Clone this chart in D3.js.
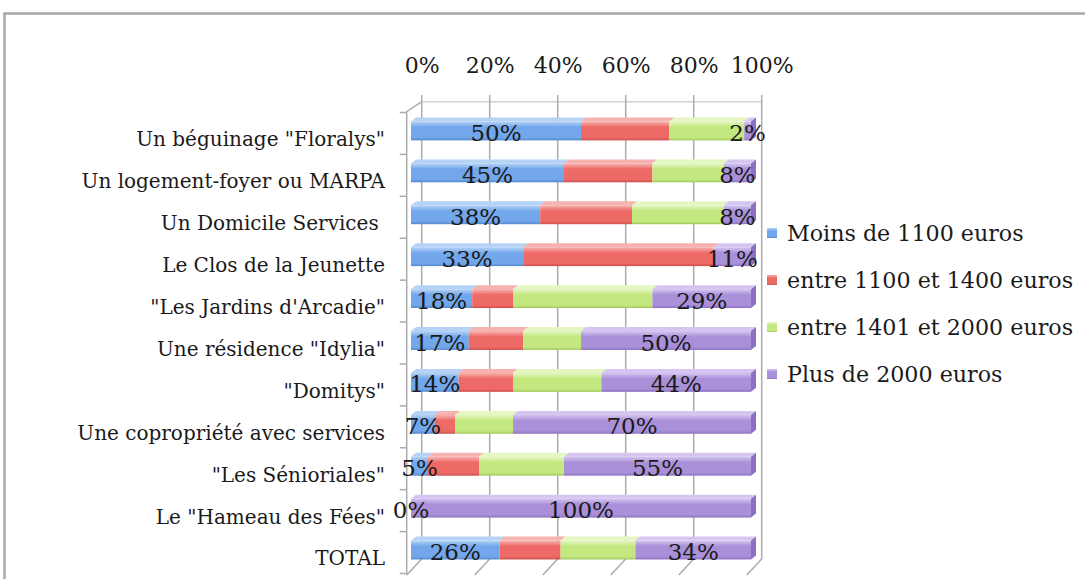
<!DOCTYPE html>
<html lang="fr">
<head>
  <meta charset="UTF-8">
  <title>Budget mensuel par type de résidence</title>
  <style>
    body { margin: 0; background: #fff; }
    svg { display: block; font-family: "DejaVu Serif", serif; }
    .cat text { white-space: pre; }
  </style>
</head>
<body>
  <svg width="1085" height="579"></svg>
  <script src="https://d3js.org/d3.v7.min.js"></script>
  <script>
    // données (en %)
    const categories = [
      'Un béguinage "Floralys"',
      'Un logement-foyer ou MARPA',
      'Un Domicile Services ',
      'Le Clos de la Jeunette',
      '"Les Jardins d\'Arcadie"',
      'Une résidence "Idylia"',
      '"Domitys"',
      'Une copropriété avec services',
      '"Les Sénioriales"',
      'Le "Hameau des Fées"',
      'TOTAL'
    ];
    const seriesNames = ["Moins de 1100 euros", "entre 1100 et 1400 euros", "entre 1401 et 2000 euros", "Plus de 2000 euros"];
    const moins1100 = [50, 45, 38, 33, 18, 17, 14, 7, 5, 0, 26];
    const entre1100 = [26, 26, 27, 56, 12, 16, 16, 6, 15, 0, 18];
    const entre1401 = [22, 21, 27, 0, 41, 17, 26, 17, 25, 0, 22];
    const plus2000  = [2, 8, 8, 11, 29, 50, 44, 70, 55, 100, 34];
    const tickValues = [0, 20, 40, 60, 80, 100];

    // couleurs : clair (haut), base, foncé (côté)
    const palette = [
      { light: "#b6d3f5", base: "#72a7eb", dark: "#5588cc" },
      { light: "#f6b2af", base: "#ee6a66", dark: "#cc4f4b" },
      { light: "#e4f6c2", base: "#c4e880", dark: "#a0c95c" },
      { light: "#d4c6f0", base: "#a990d9", dark: "#8c70c2" }
    ];

    const svg = d3.select("svg");
    const defs = svg.append("defs");
    palette.forEach((c, i) => {
      const g = defs.append("linearGradient").attr("id", "grad" + i)
        .attr("x1", 0).attr("y1", 0).attr("x2", 0).attr("y2", 1);
      g.append("stop").attr("offset", "0%").attr("stop-color", c.light);
      g.append("stop").attr("offset", "30%").attr("stop-color", c.base);
      g.append("stop").attr("offset", "85%").attr("stop-color", c.base);
      g.append("stop").attr("offset", "100%").attr("stop-color", c.dark);
    });

    // cadre
    svg.append("path").attr("d", "M4.5,579 V13.5 H1085")
      .attr("fill", "none").attr("stroke", "#a8a8a8").attr("stroke-width", 2.5);

    // échelles : x sur le mur du fond, décalage vers l'avant pour la profondeur
    const x = d3.scaleLinear().domain([0, 100]).range([421.7, 761.7]);
    const y = d3.scaleBand().domain(categories).range([110, 571])
      .paddingInner(0.55).paddingOuter(0.275);
    const wallTop = 101.7, wallBottom = 559;
    const DX = -15, DY = 10;      // arête haute du mur gauche
    const FY = 16;                // plancher
    const BX = -10.7;             // face avant des barres
    const bdx = 5, bdy = -4;      // épaisseur des barres

    // grille du mur du fond + plancher
    const grid = svg.append("g").attr("stroke", "#acacac").attr("stroke-width", 1.5).attr("fill", "none");
    grid.append("line").attr("x1", x(0)).attr("x2", x(100)).attr("y1", wallTop).attr("y2", wallTop)
      .attr("stroke", "#d4d4d4");
    tickValues.forEach(v => {
      grid.append("path")
        .attr("d", `M${x(v)},95 V${wallBottom} l${DX},${FY}`);
    });
    // mur gauche
    grid.append("path")
      .attr("d", `M${x(0)},${wallTop} l${DX},${DY} V${wallBottom + FY}`);
    const step = y.step();
    d3.range(categories.length + 1).forEach(k => {
      const yy = y.range()[0] + k * step + 2.5;
      grid.append("line").attr("x1", x(0) + DX - 7).attr("x2", x(0) + DX)
        .attr("y1", yy).attr("y2", yy);
    });

    // axe du haut (pourcentages)
    const axisTop = svg.append("g").attr("transform", "translate(0,73)")
      .call(d3.axisTop(x).tickValues(tickValues).tickFormat(d => d + "%").tickSize(0).tickPadding(0));
    axisTop.select(".domain").remove();
    axisTop.selectAll("text").attr("font-family", "DejaVu Serif").attr("font-size", 22).attr("fill", "#1a1a1a");

    // axe des catégories
    const axisLeft = svg.append("g").attr("class", "cat").attr("transform", "translate(385,9)")
      .call(d3.axisLeft(y).tickSize(0).tickPadding(0));
    axisLeft.select(".domain").remove();
    axisLeft.selectAll("text").attr("font-family", "DejaVu Serif").attr("font-size", 20).attr("fill", "#1a1a1a");

    // empilement
    const rows = categories.map((c, i) => ({
      cat: c, s0: moins1100[i], s1: entre1100[i], s2: entre1401[i], s3: plus2000[i]
    }));
    const stack = d3.stack().keys(["s0", "s1", "s2", "s3"])(rows);
    const bw = y.bandwidth();

    const bars = svg.append("g");
    stack.forEach((layer, si) => {
      const g = bars.append("g");
      layer.forEach(seg => {
        const v0 = seg[0], v1 = seg[1];
        if (v1 - v0 <= 0) return;
        const x0 = x(v0) + BX, x1 = x(v1) + BX, y0 = y(seg.data.cat);
        // face supérieure
        g.append("path")
          .attr("d", `M${x0},${y0} L${x0 + bdx},${y0 + bdy} L${x1 + bdx},${y0 + bdy} L${x1},${y0} Z`)
          .attr("fill", palette[si].light);
        // face avant
        g.append("rect").attr("x", x0).attr("y", y0).attr("width", x1 - x0).attr("height", bw)
          .attr("fill", `url(#grad${si})`);
        // côté droit (bout de la barre)
        if (v1 >= 100) {
          g.append("path")
            .attr("d", `M${x1},${y0} L${x1 + bdx},${y0 + bdy} L${x1 + bdx},${y0 + bdy + bw} L${x1},${y0 + bw} Z`)
            .attr("fill", palette[si].dark);
        }
      });
    });

    // étiquettes : première et dernière série
    const labels = svg.append("g").attr("font-family", "DejaVu Serif").attr("font-size", 23)
      .attr("fill", "#1a1a1a").attr("text-anchor", "middle");
    [0, 3].forEach(si => {
      stack[si].forEach(seg => {
        labels.append("text")
          .attr("x", x((seg[0] + seg[1]) / 2) + BX)
          .attr("y", y(seg.data.cat) + bw / 2 + 10)
          .text((seg[1] - seg[0]) + "%");
      });
    });

    // légende
    const legend = svg.append("g").attr("transform", "translate(767,240.5)");
    seriesNames.forEach((name, i) => {
      const item = legend.append("g").attr("transform", `translate(0,${i * 47})`);
      item.append("rect").attr("x", 0).attr("y", -12.5).attr("width", 10).attr("height", 10)
        .attr("fill", `url(#grad${i})`);
      item.append("text").attr("x", 20).attr("y", 0)
        .attr("font-family", "DejaVu Serif").attr("font-size", 22.2).attr("fill", "#1a1a1a")
        .text(name);
    });
  </script>
</body>
</html>
